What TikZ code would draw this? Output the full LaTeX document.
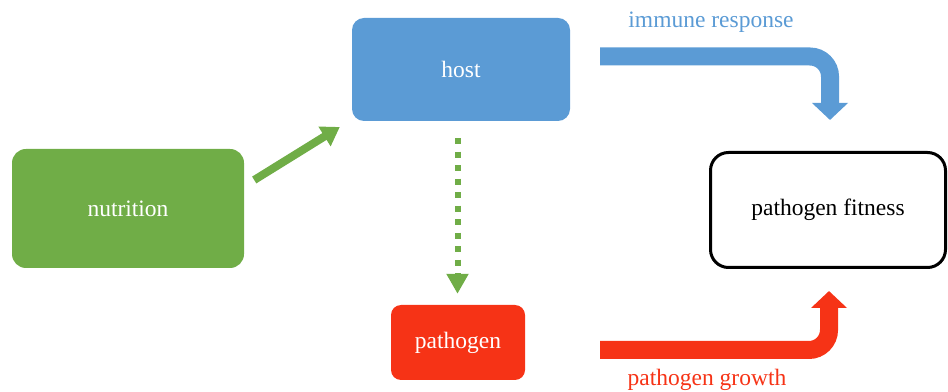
\documentclass[tikz,border=0pt]{standalone}
\usepackage{fontspec}
\setmainfont{Liberation Serif}
\usetikzlibrary{arrows.meta,calc}
\definecolor{hostblue}{HTML}{5B9BD5}
\definecolor{nutgreen}{HTML}{70AD47}
\definecolor{pathred}{HTML}{F63316}
\begin{document}
\begin{tikzpicture}[x=1pt,y=1pt,
  every node/.style={font=\fontsize{23.5pt}{28pt}\selectfont, inner sep=0pt},
  box/.style={rectangle, text=white},
  bigarrow/.style={line width=18pt, rounded corners=20pt, -{Triangle[width=35pt,length=17pt]}},
  lbl/.style={anchor=center}
]
\useasboundingbox (0,0) rectangle (948,391);
% boxes
\node[box, fill=hostblue, rounded corners=12pt, minimum width=218pt, minimum height=103pt] (host) at (461,321.5) {host};
\node[box, fill=nutgreen, rounded corners=14pt, minimum width=232pt, minimum height=119pt] (nutrition) at (128,182.5) {nutrition};
\node[box, fill=pathred, rounded corners=10pt, minimum width=134pt, minimum height=75pt] (pathogen) at (458,48.5) {pathogen};
\node[rectangle, draw=black, line width=3pt, rounded corners=18pt, minimum width=235pt, minimum height=115pt] (fitness) at (828,181) {pathogen fitness};
% green solid arrow
\coordinate (g0) at ($(nutrition.east)+(10,28.5)$);
\coordinate (g1) at ($(host.west)+(-12,-57.5)$);
\draw[nutgreen, line width=8pt, -{Triangle[width=22pt,length=18pt]}] (g0) -- (g1);
% green dotted arrow
\coordinate (d0) at ($(host.south)+(-3.5,-17)$);
\coordinate (d1) at ($(pathogen.north)+(-0.5,11)$);
\draw[nutgreen, line width=6pt, dash pattern=on 6pt off 7.5pt, -{Triangle[width=21pt,length=20pt]}] (d0) -- (d1);
% blue immune response arrow
\coordinate (b0) at ($(host.east)+(30,13)$);
\coordinate (b1) at ($(fitness.north)+(2,31)$);
\draw[hostblue, bigarrow] (b0) -| (b1);
\node[lbl, text=hostblue] (immune) at (711,369) {immune response};
% red pathogen growth arrow
\coordinate (r0) at ($(pathogen.east)+(75,-7.5)$);
\coordinate (r1) at ($(fitness.south)+(1,-22)$);
\draw[pathred, bigarrow] (r0) -| (r1);
\node[lbl, text=pathred] (growth) at (707,11) {pathogen growth};
\end{tikzpicture}
\end{document}
